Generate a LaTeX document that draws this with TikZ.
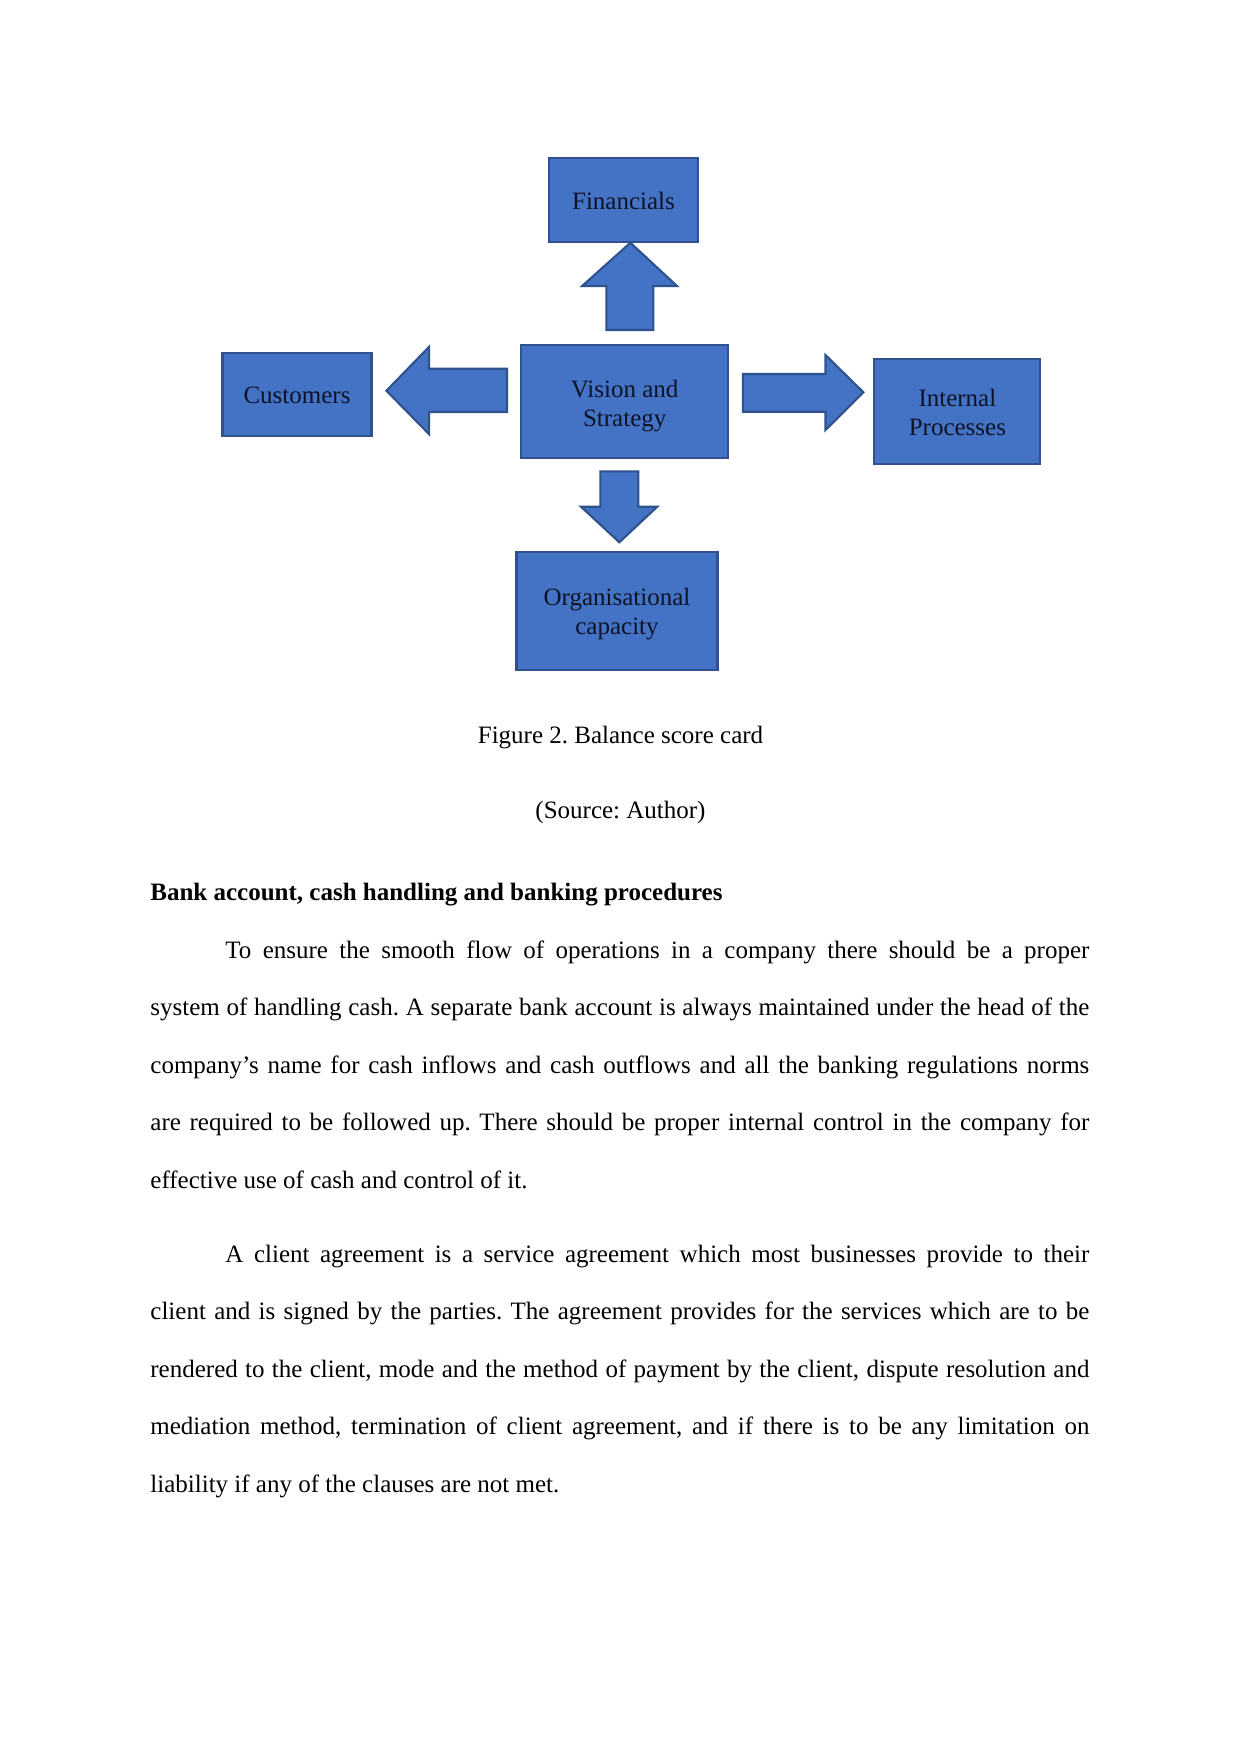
\documentclass[tikz,border=0pt]{standalone}
\usepackage{fontspec}
\setmainfont{Liberation Serif}
\frenchspacing
\definecolor{boxfill}{HTML}{4472C4}
\definecolor{boxline}{HTML}{2F528F}
\definecolor{boxtext}{HTML}{0D1326}
\begin{document}
\begin{tikzpicture}[x=0.48pt,y=-0.48pt,
  card/.style={draw=boxline,fill=boxfill,line width=1pt,inner sep=0pt},
  cardtext/.style={text=boxtext,align=center,inner sep=0pt,font=\fontsize{12}{14}\selectfont,label distance=0pt},
  blockarrow/.style={draw=boxline,fill=boxfill,line width=1pt,line join=miter},
  bodytext/.style={anchor=base west,inner sep=0pt,text width=450.7pt,align=justify,
    font=\fontsize{12}{27.6}\selectfont}]
\useasboundingbox (0,0) rectangle (1241,1754);
\fill[white] (0,0) rectangle (1241,1754);

% boxes
\node[card,minimum width={149*0.48pt},minimum height={84*0.48pt},
  label={[cardtext,yshift=-0.5pt,name=fintext]center:Financials}] (fin) at (623.5,200) {};
\node[card,minimum width={207*0.48pt},minimum height={113*0.48pt},
  label={[cardtext,yshift=-2.2pt,name=vistext]center:Vision and\\Strategy}] (vis) at (624.7,401.2) {};
\node[card,minimum width={149*0.48pt},minimum height={83*0.48pt},
  label={[cardtext,yshift=-0.5pt,name=custext]center:Customers}] (cus) at (297,394.3) {};
\node[card,minimum width={166*0.48pt},minimum height={105*0.48pt},
  label={[cardtext,yshift=-0.5pt,name=inttext]center:Internal\\Processes}] (int) at (957.4,411.3) {};
\node[card,minimum width={201*0.48pt},minimum height={118*0.48pt},
  label={[cardtext,yshift=-1.6pt,name=orgtext]center:Organisational\\capacity}] (org) at (617,610.8) {};

% block arrows
\draw[blockarrow] (606.3,330) -- (606.3,286) -- (582.1,286) -- (630.4,242.7) -- (677,286) -- (653.4,286) -- (653.4,330) -- cycle;
\draw[blockarrow] (507,368.7) -- (429.2,368.7) -- (429.2,346.7) -- (386.4,390.7) -- (429.2,434.3) -- (429.2,412) -- (507,412) -- cycle;
\draw[blockarrow] (742.8,374) -- (825.5,374) -- (825.5,355) -- (863.4,392.3) -- (825.5,430) -- (825.5,411.7) -- (742.8,411.7) -- cycle;
\draw[blockarrow] (600.3,471.3) -- (638.3,471.3) -- (638.3,506.7) -- (657.3,506.7) -- (619.3,542.3) -- (581,506.7) -- (600.3,506.7) -- cycle;

% captions
\node[anchor=base,inner sep=0pt,font=\fontsize{12}{14}\selectfont] (cap) at (620.5,743) {Figure 2. Balance score card};
\node[anchor=base,inner sep=0pt,font=\fontsize{12}{14}\selectfont] (src) at (620.5,818) {(Source: Author)};
\node[anchor=base west,inner sep=0pt,font=\fontsize{12}{14}\selectfont\bfseries] (head) at (150,900) {Bank account, cash handling and banking procedures};

% paragraphs
\node[bodytext] (para1) at (150,958) {\tolerance=9999\emergencystretch=20pt\hspace*{36pt}To ensure the smooth flow of operations in a company there should be a proper\linebreak
system of handling cash. A separate bank account is always maintained under the head of the\linebreak
company’s name for cash inflows and cash outflows and all the banking regulations norms\linebreak
are required to be followed up. There should be proper internal control in the company for\linebreak
effective use of cash and control of it.};
\node[bodytext] (para2) at (150,1262) {\tolerance=9999\emergencystretch=20pt\hspace*{36pt}A client agreement is a service agreement which most businesses provide to their\linebreak
client and is signed by the parties. The agreement provides for the services which are to be\linebreak
rendered to the client, mode and the method of payment by the client, dispute resolution and\linebreak
mediation method, termination of client agreement, and if there is to be any limitation on\linebreak
liability if any of the clauses are not met.};
\end{tikzpicture}
\end{document}
